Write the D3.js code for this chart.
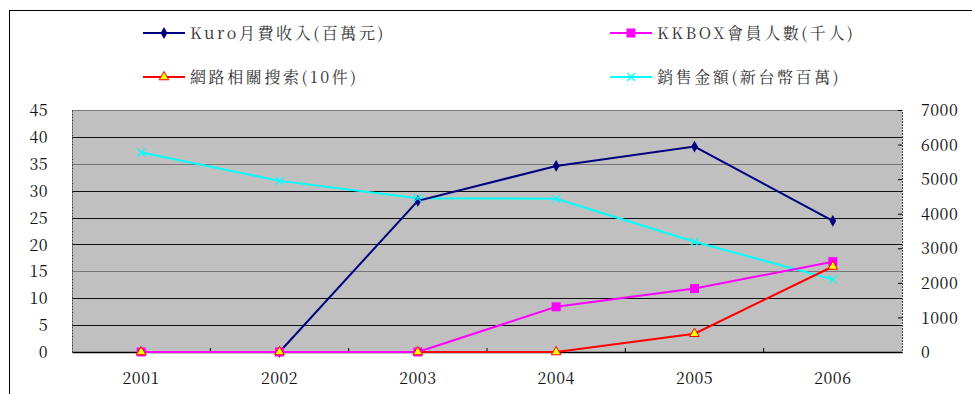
<!DOCTYPE html>
<html>
<head>
<meta charset="utf-8">
<script src="https://cdn.jsdelivr.net/npm/d3@7"></script>
<style>
  body { margin: 0; background: #fff; }
</style>
</head>
<body>
<div class="chart"></div>
<script>
var years = ["2001", "2002", "2003", "2004", "2005", "2006"];
var kuro = [null, 0, 28.1, 34.6, 38.2, 24.4];
var kkbox = [0, 0, 0, 8.4, 11.8, 16.8];
var search = [0, 0, 0, 0, 3.4, 15.9];
var sales = [5770, 4950, 4450, 4430, 3190, 2100];
var leftTicks = [0, 5, 10, 15, 20, 25, 30, 35, 40, 45];
var rightTicks = [0, 1000, 2000, 3000, 4000, 5000, 6000, 7000];
var names = ["Kuro月費收入(百萬元)", "KKBOX會員人數(千人)", "網路相關搜索(10件)", "銷售金額(新台幣百萬)"];

var serifFont = "'Noto Serif CJK TC'";

var svgWidth = 972;
var svgHeight = 394;
var margin = { top: 110, right: 70, bottom: 42, left: 72 };
var width = svgWidth - margin.left - margin.right;
var height = svgHeight - margin.top - margin.bottom;

var svg = d3.select(".chart").append("svg")
  .attr("width", svgWidth)
  .attr("height", svgHeight);

// outer frame
svg.append("line").attr("x1", 9.5).attr("x2", 9.5).attr("y1", 10).attr("y2", svgHeight).attr("stroke", "#000");
svg.append("line").attr("x1", 9).attr("x2", svgWidth).attr("y1", 10.5).attr("y2", 10.5).attr("stroke", "#000");

var chartGroup = svg.append("g").attr("transform", `translate(${margin.left}, ${margin.top})`);

var x = d3.scaleBand().domain(years).range([0, width]);
var yL = d3.scaleLinear().domain([0, 45]).range([height, 0]);
var yR = d3.scaleLinear().domain([0, 7000]).range([height, 0]);

chartGroup.append("rect").attr("width", width).attr("height", height).attr("fill", "#c0c0c0");

// gridlines
chartGroup.selectAll(".grid").data(leftTicks.slice(1)).enter().append("line")
  .attr("x1", 0).attr("x2", width)
  .attr("y1", d => Math.round(yL(d)) + 0.5).attr("y2", d => Math.round(yL(d)) + 0.5)
  .attr("stroke", d => (d == 45 || d == 35 || d == 15) ? "#777" : "#111")
  .attr("stroke-width", 1.2);

// left axis
var leftAxis = d3.axisLeft(yL).tickValues(leftTicks).tickSize(0);
var gl = chartGroup.append("g").call(leftAxis).attr("font-family", null);
gl.select(".domain").attr("stroke", "#444").attr("stroke-dasharray", "2,1");
gl.selectAll("text").style("font-family", serifFont).attr("font-size", 16).attr("fill", "#111").attr("dy", "0.35em")
  .attr("x", -24).attr("letter-spacing", 0.5);

// right axis, ticks point inward
var rightAxis = d3.axisRight(yR).tickValues(rightTicks).tickSize(-4).tickFormat(d3.format("d"));
var gr = chartGroup.append("g").attr("transform", `translate(${width}, 0)`).call(rightAxis).attr("font-family", null);
gr.select(".domain").attr("stroke", "#444").attr("stroke-dasharray", "2,1");
gr.selectAll("line").attr("stroke", "#000");
gr.selectAll("text").style("font-family", serifFont).attr("font-size", 16).attr("fill", "#111").attr("dy", "0.35em")
  .attr("x", 19).attr("letter-spacing", 0.5);

// bottom axis
var bottomAxis = d3.axisBottom(x).tickSize(0).tickPadding(21);
var gb = chartGroup.append("g").attr("transform", `translate(0, ${height})`).call(bottomAxis).attr("font-family", null);
gb.select(".domain").attr("stroke", "#000").attr("stroke-width", 1.5);
gb.selectAll("text").style("font-family", serifFont).attr("font-size", 16).attr("fill", "#111").attr("letter-spacing", 0.5);
chartGroup.selectAll(".xtick").data(years.slice(1)).enter().append("line")
  .attr("x1", d => x(d)).attr("x2", d => x(d))
  .attr("y1", height).attr("y2", height - 4)
  .attr("stroke", "#000");

function pts(vals, scale) {
  return years.map((yr, i) => ({ yr: yr, v: vals[i], px: x(yr) + x.bandwidth() / 2, py: vals[i] == null ? null : scale(vals[i]) }))
    .filter(d => d.v != null);
}

var lineGen = d3.line().x(d => d.px).y(d => d.py);

var seriesList = [
  { data: pts(sales, yR), color: "#00ffff", marker: "x" },
  { data: pts(search, yL), color: "#ff0000", marker: "tri" },
  { data: pts(kkbox, yL), color: "#ff00ff", marker: "sq" },
  { data: pts(kuro, yL), color: "#000080", marker: "dia" }
];

function drawMarker(g, type, color) {
  if (type == "dia") {
    g.append("path").attr("d", d3.symbol(d3.symbolDiamond, 40)).attr("fill", color);
  } else if (type == "sq") {
    g.append("rect").attr("x", -4.5).attr("y", -4.5).attr("width", 9).attr("height", 9).attr("fill", color);
  } else if (type == "tri") {
    g.append("path").attr("d", d3.symbol(d3.symbolTriangle, 40)).attr("fill", "#ffff00").attr("stroke", "#ff0000").attr("stroke-width", 1);
  } else {
    g.append("path").attr("d", "M-4,-4L4,4M-4,4L4,-4").attr("stroke", color).attr("stroke-width", 1.2);
  }
}

seriesList.forEach(function(s) {
  chartGroup.append("path").datum(s.data)
    .attr("d", lineGen)
    .attr("fill", "none")
    .attr("stroke", s.color)
    .attr("stroke-width", 2);
});
// markers: kuro first, then kkbox, then search triangles on top, sales last
seriesList.slice().reverse().forEach(function(s) {
  s.data.forEach(function(d) {
    var g = chartGroup.append("g").attr("transform", `translate(${d.px}, ${d.py})`);
    drawMarker(g, s.marker, s.color);
  });
});

// legend
var legend = [
  { name: names[0], color: "#000080", marker: "dia", lx: 143, ly: 33 },
  { name: names[1], color: "#ff00ff", marker: "sq", lx: 610, ly: 33 },
  { name: names[2], color: "#ff0000", marker: "tri", lx: 143, ly: 77 },
  { name: names[3], color: "#00ffff", marker: "x", lx: 610, ly: 77 }
];
legend.forEach(function(l) {
  var g = svg.append("g").attr("transform", `translate(${l.lx}, ${l.ly})`);
  g.append("line").attr("x1", 0).attr("x2", 42).attr("stroke", l.color).attr("stroke-width", 2);
  var m = g.append("g").attr("transform", "translate(21, 0)");
  drawMarker(m, l.marker, l.color);
  g.append("text").attr("x", 47).attr("dy", "0.35em")
    .style("font-family", serifFont)
    .attr("font-size", 16).attr("fill", "#333").attr("letter-spacing", 2.6)
    .text(l.name);
});
</script>
</body>
</html>
